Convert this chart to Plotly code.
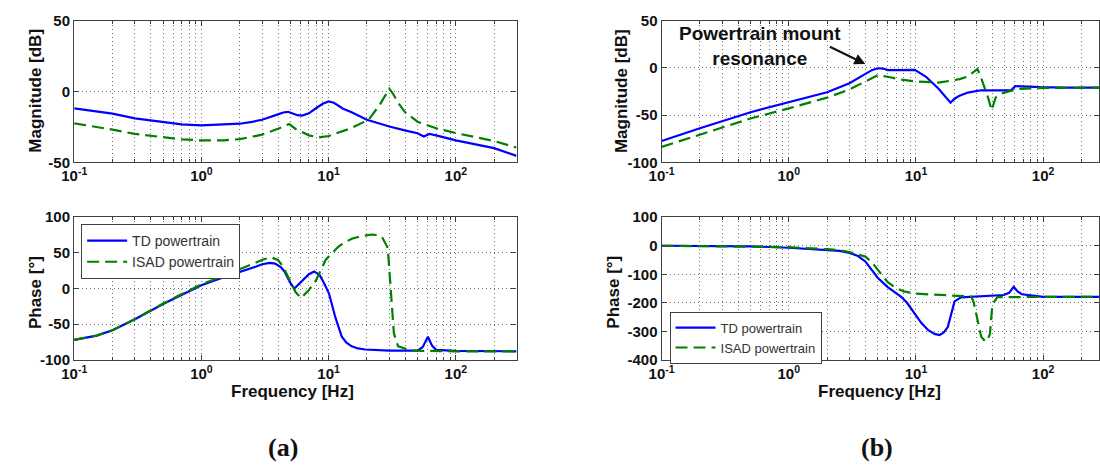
import plotly.graph_objects as go

# ---------------- data ----------------
# (a) magnitude
a_mag_td_f = [0.1, 0.15, 0.2, 0.3, 0.4, 0.5, 0.7, 1, 1.5, 2, 2.5, 3, 4, 4.4, 4.8, 5.2, 5.7, 6.2, 7, 8, 9, 10, 11, 13, 15, 20, 30, 42, 50, 56, 60, 62, 70, 100, 200, 300]
a_mag_td_db = [-12, -14, -15.7, -19, -20.5, -21.4, -23.2, -24, -23.6, -22.8, -21.5, -20, -16.2, -14.9, -14.4, -15.5, -16.8, -17.1, -15.5, -11.7, -8.7, -7.1, -8, -12.2, -14.6, -20, -24.8, -28, -29.5, -31.8, -30.8, -30, -31, -34.6, -40, -45.5]
a_mag_isad_f = [0.1, 0.15, 0.2, 0.3, 0.5, 0.7, 1, 1.5, 2, 3, 4, 4.5, 4.9, 5.5, 6, 7, 8.4, 10, 15, 20.6, 25, 28, 30, 32, 35, 39.6, 50, 70, 100, 200, 300]
a_mag_isad_db = [-22.5, -25, -27, -30, -32.3, -33.8, -34.6, -34.5, -33.7, -30.5, -26.4, -24.5, -23, -26.5, -28, -31, -32.5, -31.5, -26, -20, -10, -3, 1.9, -1.5, -7.7, -14.4, -21.4, -26, -29.4, -35, -39.6]
# (a) phase
a_ph_td_f = [0.1, 0.15, 0.2, 0.3, 0.5, 0.7, 1, 1.5, 2, 2.7, 3.0, 3.44, 3.8, 4.2, 4.5, 5, 5.38, 6, 7, 7.7, 8.5, 9.3, 10.07, 11.3, 12.7, 13.8, 15.2, 17, 19.4, 30, 50, 55, 60.3, 65, 70, 100, 300]
a_ph_td_deg = [-72, -66, -58.5, -43, -21.6, -9, 4.5, 16, 23, 31, 34, 36, 35, 30, 24, 8, 0, 8, 20, 24, 19, 6, -7, -40.5, -67.6, -76, -81, -84, -85.5, -87, -87, -82, -67.6, -80, -86, -87.5, -88]
a_ph_isad_f = [0.1, 0.15, 0.2, 0.3, 0.5, 0.7, 1, 1.5, 2, 2.7, 3.1, 3.54, 4.0, 4.36, 4.9, 5.5, 6.07, 7, 7.95, 9.5, 11.9, 13.5, 15.2, 18, 21.9, 24, 26.3, 28.9, 29.5, 30.2, 31.3, 32.6, 35.2, 44.8, 100, 300]
a_ph_isad_deg = [-72, -66, -58.5, -43, -21, -8, 6, 18, 27, 37, 41, 43.7, 40, 31.5, 13.5, -5, -13.5, -2, 11.3, 40.5, 58.5, 65, 69.8, 73.5, 75.7, 75, 72, 58.5, 45, 18, -27, -63, -81, -87, -88, -88]
# (b) magnitude
b_mag_td_f = [0.1, 0.2, 0.5, 1, 2, 3, 4, 4.5, 5, 5.5, 6, 7, 8, 9.8, 12, 15, 18.7, 20, 22, 25.6, 32.4, 40, 52, 56, 60.3, 70, 95, 150, 300]
b_mag_td_db = [-77.5, -64, -47, -36.7, -25.9, -16.3, -6, -2.5, -0.5, -0.8, -2.4, -2.4, -2.4, -2.2, -9.5, -22, -37, -33, -29.5, -26.2, -23.8, -23.8, -23.8, -23.8, -19.4, -19.8, -20.5, -21, -21]
b_mag_isad_f = [0.1, 0.2, 0.5, 1, 2, 3, 4, 5, 6, 7.7, 10, 15, 18.9, 22, 25.6, 28, 30.4, 32, 34.3, 37, 39.3, 42.4, 48, 55.3, 66, 100, 300]
b_mag_isad_db = [-83.7, -70.7, -53.7, -42.9, -31.6, -23, -14.6, -7.8, -9.5, -12.6, -14.5, -15.6, -13.6, -12, -9.2, -5.5, -1.3, -8, -19.4, -32, -44.9, -31.3, -27, -24.5, -22.4, -21.2, -21]
# (b) phase
b_ph_td_f = [0.1, 0.5, 1, 2, 2.5, 3, 3.5, 4, 4.5, 5, 6, 7, 7.7, 8.5, 9.8, 11, 12.5, 14, 15.3, 16.5, 17.8, 19, 20.1, 22.6, 30, 49, 54, 58.7, 63, 68, 100, 300]
b_ph_td_deg = [0, -2, -7, -13.5, -18, -25, -36, -55, -83, -112, -145, -165, -180, -200, -240, -270, -296, -309, -313, -305, -285, -235, -195, -181, -178, -172.6, -165, -144, -160, -170, -179, -179]
b_ph_isad_f = [0.1, 0.5, 1, 2, 2.5, 3, 4, 4.5, 5, 5.5, 6, 7, 8, 10, 14.5, 20, 27.3, 28.5, 29.8, 31, 32.6, 35.2, 37, 38.2, 39.9, 43.6, 100, 300]
b_ph_isad_deg = [0, -2, -5, -12, -16, -22, -38, -58, -83, -108, -128, -149, -160, -168, -172.6, -176, -178, -200, -240, -285, -319, -336, -325, -308, -206, -180, -179, -179]

x_tickvals = [0.1, 1, 10, 100]
x_ticktext = ["10<sup>-1</sup>", "10<sup>0</sup>", "10<sup>1</sup>", "10<sup>2</sup>"]
x_minorvals = [0.2, 0.3, 0.4, 0.5, 0.6, 0.7, 0.8, 0.9, 2, 3, 4, 5, 6, 7, 8, 9,
               20, 30, 40, 50, 60, 70, 80, 90, 200, 300]
a_mag_ticks = [-50, 0, 50]
b_mag_ticks = [-100, -50, 0, 50]
a_ph_ticks = [-100, -50, 0, 50, 100]
b_ph_ticks = [-400, -300, -200, -100, 0, 100]
series_names = ["TD powertrain", "ISAD powertrain"]

# ---------------- styling ----------------
BLUE = "#0000FF"
GREEN = "#008000"
FRAME = "#404040"
GRID = "#707070"
FONT = "Liberation Sans, Arial, sans-serif"
TICKFONT = dict(family=FONT, size=15, color="#111", weight="bold")

fig = go.Figure()


def add_pair(xa, ya, f_td, v_td, f_is, v_is, legend=None):
    show = legend is not None
    fig.add_trace(go.Scatter(x=f_td, y=v_td, mode="lines", name=series_names[0],
                             line=dict(color=BLUE, width=2.2), xaxis=xa, yaxis=ya,
                             showlegend=show, legend=legend or "legend"))
    fig.add_trace(go.Scatter(x=f_is, y=v_is, mode="lines", name=series_names[1],
                             line=dict(color=GREEN, width=2.2, dash="12px,6px"), xaxis=xa, yaxis=ya,
                             showlegend=show, legend=legend or "legend"))


add_pair("x", "y", a_mag_td_f, a_mag_td_db, a_mag_isad_f, a_mag_isad_db)
add_pair("x2", "y2", b_mag_td_f, b_mag_td_db, b_mag_isad_f, b_mag_isad_db)
add_pair("x3", "y3", a_ph_td_f, a_ph_td_deg, a_ph_isad_f, a_ph_isad_deg, legend="legend")
add_pair("x4", "y4", b_ph_td_f, b_ph_td_deg, b_ph_isad_f, b_ph_isad_deg, legend="legend2")

W, H = 1100, 471
dom_a = [62 / W, 510 / W]
dom_b = [657 / W, 1.0]
dom_top = [(H - 159) / H, (H - 12) / H]
dom_bot = [(H - 364) / H, (H - 216) / H]


def xaxis(domain, rng, anchor):
    return dict(type="log", domain=domain, range=rng, anchor=anchor,
                tickmode="array", tickvals=x_tickvals, ticktext=x_ticktext,
                tickfont=TICKFONT, showline=True, linecolor=FRAME, linewidth=1.3,
                mirror="ticks", ticks="inside", ticklen=5, tickcolor=FRAME,
                showgrid=True, gridcolor=GRID, gridwidth=1, griddash="1px,3px",
                zeroline=False, ticklabelstandoff=0,
                minor=dict(tickmode="array", tickvals=x_minorvals, showgrid=True,
                           gridcolor=GRID, gridwidth=1, griddash="1px,3px",
                           ticks="inside", ticklen=3, tickcolor=FRAME))


def yaxis(domain, rng, ticks, anchor):
    return dict(domain=domain, range=rng, anchor=anchor,
                tickmode="array", tickvals=ticks, ticktext=[str(t) for t in ticks],
                tickfont=TICKFONT, showline=True, linecolor=FRAME, linewidth=1.3,
                mirror="ticks", ticks="inside", ticklen=5, tickcolor=FRAME,
                showgrid=True, gridcolor=GRID, gridwidth=1, griddash="1px,3px",
                zeroline=False)


b_end = -1 + (1100 - 657) / 128.8
fig.update_layout(
    width=W, height=H, margin=dict(l=0, r=0, t=0, b=0),
    paper_bgcolor="white", plot_bgcolor="white",
    xaxis=xaxis(dom_a, [-1, 2.4771], "y"),
    yaxis=yaxis(dom_top, [-50, 50], a_mag_ticks, "x"),
    xaxis2=xaxis(dom_b, [-1, b_end], "y2"),
    yaxis2=yaxis(dom_top, [-100, 50], b_mag_ticks, "x2"),
    xaxis3=xaxis(dom_a, [-1, 2.4771], "y3"),
    yaxis3=yaxis(dom_bot, [-100, 100], a_ph_ticks, "x3"),
    xaxis4=xaxis(dom_b, [-1, b_end], "y4"),
    yaxis4=yaxis(dom_bot, [-400, 100], b_ph_ticks, "x4"),
    legend=dict(x=69 / W, y=(H - 223) / H, xanchor="left", yanchor="top",
                bgcolor="white", bordercolor=FRAME, borderwidth=1,
                font=dict(family=FONT, size=14, color="#333"),
                tracegroupgap=0, itemwidth=40),
    legend2=dict(x=665 / W, y=(H - 314) / H, xanchor="left", yanchor="top",
                 bgcolor="white", bordercolor=FRAME, borderwidth=1,
                 font=dict(family=FONT, size=13, color="#333"),
                 tracegroupgap=0, itemwidth=40),
    showlegend=True,
)

TITLEFONT = dict(family=FONT, size=17, color="#111", weight="bold")
ann = [
    dict(text="Magnitude [dB]", x=23 / W, y=(H - 85) / H, textangle=-90),
    dict(text="Phase [°]", x=23 / W, y=(H - 294) / H, textangle=-90),
    dict(text="Magnitude [dB]", x=617 / W, y=(H - 85) / H, textangle=-90),
    dict(text="Phase [°]", x=608 / W, y=(H - 294) / H, textangle=-90),
    dict(text="Frequency [Hz]", x=283 / W, y=(H - 397) / H, textangle=0),
    dict(text="Frequency [Hz]", x=878 / W, y=(H - 397) / H, textangle=0),
]
for a in ann:
    fig.add_annotation(xref="paper", yref="paper", xanchor="center", yanchor="middle",
                       showarrow=False, font=TITLEFONT, **a)

# resonance annotation (panel b, magnitude)
fig.add_annotation(xref="paper", yref="paper", x=757 / W, y=(H - 38) / H,
                   xanchor="center", yanchor="middle", showarrow=False, align="center",
                   text="Powertrain mount<br>resonance",
                   font=dict(family=FONT, size=19, color="#111", weight="bold"))
fig.add_annotation(xref="x2", yref="y2", x=0.602, y=4, text="", showarrow=True,
                   axref="pixel", ayref="pixel", ax=-37, ay=-18,
                   arrowhead=2, arrowsize=1.1, arrowwidth=2, arrowcolor="#111")

# captions
CAPFONT = dict(family="Liberation Serif, Times New Roman, serif", size=26, color="#111", weight="bold")
fig.add_annotation(xref="paper", yref="paper", x=273 / W, y=(H - 455) / H, text="(a)",
                   showarrow=False, font=CAPFONT, xanchor="center", yanchor="middle")
fig.add_annotation(xref="paper", yref="paper", x=875 / W, y=(H - 455) / H, text="(b)",
                   showarrow=False, font=CAPFONT, xanchor="center", yanchor="middle")

fig.write_html("out.html")
